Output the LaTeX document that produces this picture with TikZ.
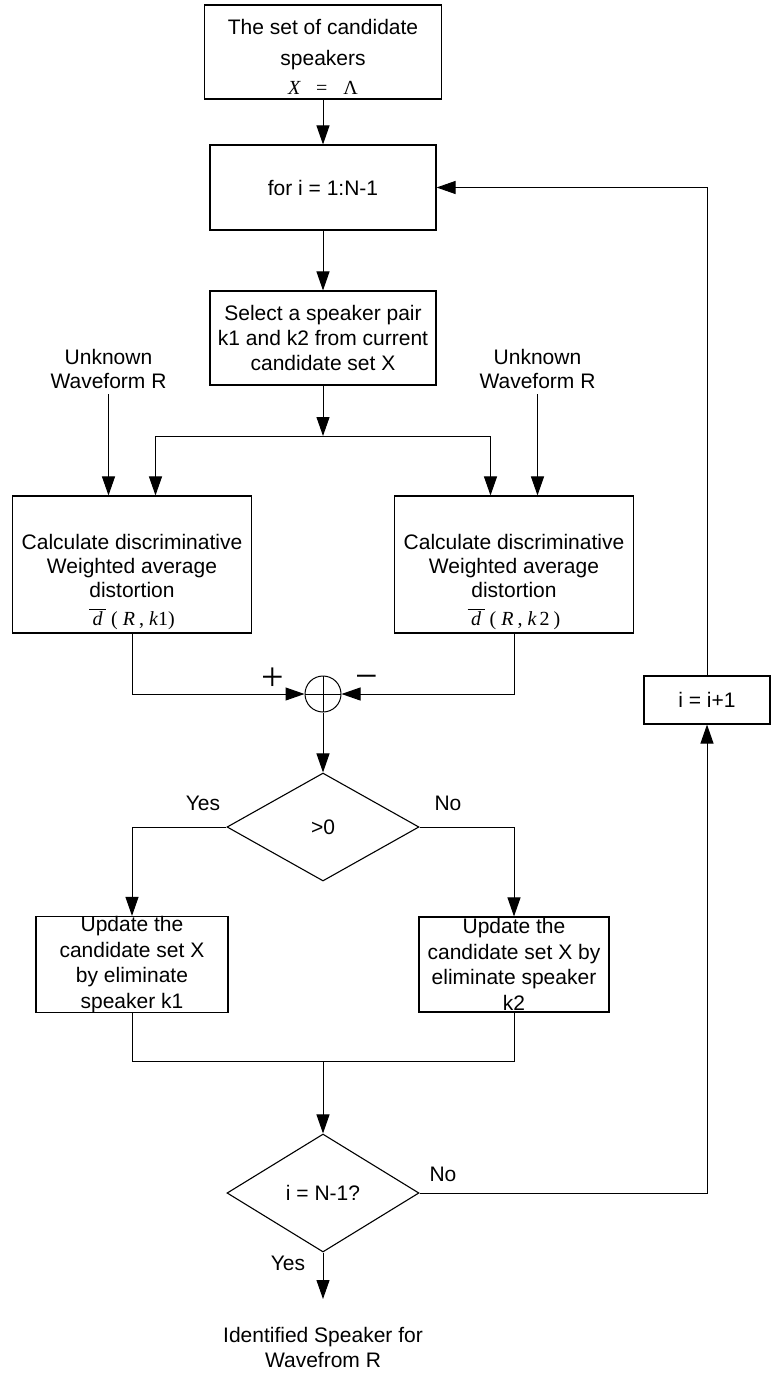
\documentclass[tikz,border=0pt]{standalone}
\usepackage{fontspec}
\setmainfont{Liberation Sans}
\newfontfamily\tms{Liberation Serif}
\usetikzlibrary{arrows.meta,shapes.geometric}
% d with a bar over it, for the average distortion
\newcommand\dbarsym{\leavevmode\vbox{\hrule width 17pt height 0.9pt\vskip 1.5pt\hbox to 17pt{\hss\itshape d\hss}}}
\begin{document}
\begin{tikzpicture}[x=1pt,y=-1pt,
  font=\fontsize{21}{25}\selectfont,
  line width=1pt,
  arr/.style={-{Triangle[length=19pt,width=13pt]}},
  box/.style={draw,line width=1.1pt,inner sep=0pt,align=center},
  dec/.style={draw,diamond,line width=1.1pt,inner sep=0pt,minimum width=192,minimum height=108},
  txt/.style={inner sep=0pt,align=center},
  src/.style={inner sep=5pt,align=center,font=\fontsize{21}{24}\selectfont},
  sym/.style={inner sep=0pt,font=\fontsize{40}{40}\selectfont\tms}]
\useasboundingbox (0,0) rectangle (771,1373);

% initial set
\node[box,minimum width=237,minimum height=94] (b1) at (323,52) {};
\node[txt] (t1) at (323,57) {The set of candidate\\[6pt]speakers\\[4pt]{\tms\fontsize{20}{24}\selectfont\itshape X\hspace{16pt}\upshape=\hspace{16pt}Λ}};

% loop head and pair selection
\node[box,minimum width=226,minimum height=85] (b2) at (323,187.5) {for i = 1:N-1};
\node[box,minimum width=226,minimum height=94] (b3) at (323,338) {Select a speaker pair\\k1 and k2 from current\\candidate set X};
\coordinate (br) at (323,436);

% distortion for both speakers
\node[src] (u1) at (108.5,369) {Unknown\\Waveform R};
\node[src] (u2) at (537.5,369) {Unknown\\Waveform R};
\node[box,minimum width=239,minimum height=137] (b4) at (132,564.5) {};
\node[txt] (t4) at (132,582) {Calculate discriminative\\[-1pt]Weighted average\\[-1pt]distortion\\[3pt]{\tms\fontsize{20}{24}\selectfont\dbarsym\hspace{5pt}(\hspace{5pt}\textit{R}\hspace{4pt},\hspace{5pt}\textit{k}1)}};
\node[box,minimum width=239,minimum height=137] (b5) at (514,564.5) {};
\node[txt] (t5) at (514,582) {Calculate discriminative\\[-1pt]Weighted average\\[-1pt]distortion\\[3pt]{\tms\fontsize{20}{24}\selectfont\dbarsym\hspace{5pt}(\hspace{5pt}\textit{R}\hspace{4pt},\hspace{5pt}\textit{k}\hspace{3pt}2\hspace{4pt})}};

% summing junction
\node[draw,circle,minimum size=36,inner sep=0pt,
  path picture={\draw (path picture bounding box.north) -- (path picture bounding box.south)
                      (path picture bounding box.west) -- (path picture bounding box.east);}] (sum) at (323,694) {};
\node[sym] (plus) at (273,679) {+};
\node[sym] (minus) at (367,682) {−};

% sign test
\node[dec] (d1) at (323,827) {>0};
\node[txt] (yes1) at (203,803) {Yes};
\node[txt] (no1) at (448,803) {No};

% update of the candidate set
\node[box,minimum width=192,minimum height=95,font=\fontsize{21}{25.5}\selectfont] (b6) at (132,964.5) {Update the\\candidate set\hspace{6pt}X\\by eliminate\\speaker k1};
\node[box,minimum width=190,minimum height=95,font=\fontsize{21}{25.5}\selectfont] (b7) at (514,964.5) {Update the\\candidate set X by\\eliminate speaker\\k2};
\coordinate (jn) at (323,1061);

% loop end test
\node[dec,minimum height=118] (d2) at (323,1193) {i = N-1?};
\node[txt] (no2) at (443,1174) {No};
\node[txt] (yes2) at (288,1263) {Yes};
\node[box,minimum width=126,minimum height=48] (inc) at (707,700) {i = i+1};
\coordinate (outend) at (323,1299);
\node[txt] (fin) at (323,1347.5) {Identified Speaker for\\Wavefrom R};

% connectors
\draw[arr] (b1.south) -- (b2.north);
\draw[arr] (b2.south) -- (b3.north);
\draw[arr] (b3.south) -- (br);
\draw[arr] (br) -| ([xshift=23.5pt]b4.north);
\draw[arr] (br) -| ([xshift=-23.5pt]b5.north);
\draw[arr] (u1.south) -- ([xshift=-23.5pt]b4.north);
\draw[arr] (u2.south) -- ([xshift=23.5pt]b5.north);
\draw[arr] (b4.south) |- (sum.west);
\draw[arr] (b5.south) |- (sum.east);
\draw[arr] (sum.south) -- (d1.north);
\draw[arr] (d1.west) -| (b6.north);
\draw[arr] (d1.east) -| (b7.north);
\draw (b6.south) |- (jn) -| (b7.south);
\draw[arr] (jn) -- (d2.north);
\draw[arr] (d2.east) -| (inc.south);
\draw[arr] (inc.north) |- (b2.east);
\draw[arr] (d2.south) -- (outend);
\end{tikzpicture}
\end{document}
